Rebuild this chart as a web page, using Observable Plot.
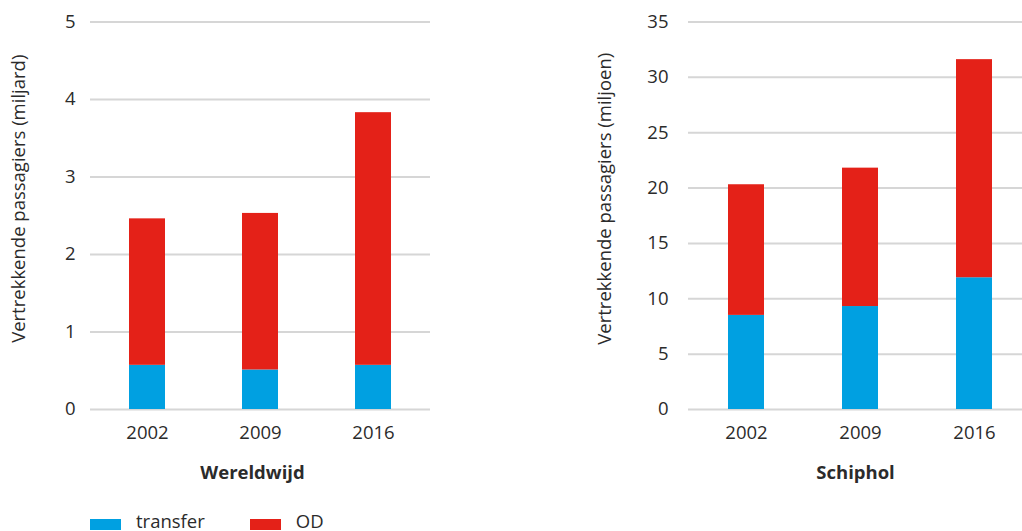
<!DOCTYPE html>
<html>
<head>
<meta charset="utf-8">
<script src="https://cdn.jsdelivr.net/npm/d3@7"></script>
<script src="https://cdn.jsdelivr.net/npm/@observablehq/plot@0.6"></script>
<style>
  html, body { margin: 0; padding: 0; background: #fff; }
  #wrap { position: relative; width: 1022px; height: 531px; overflow: hidden; font-family: "Open Sans", sans-serif; color: #2b2b2b; }
  #left { position: absolute; left: 0; top: 0; width: 450px; }
  #right { position: absolute; left: 580px; top: 0; width: 462px; }
  #wrap svg { max-width: none !important; }
  #legend { position: absolute; left: 90px; top: 508px; display: flex; align-items: center; font-size: 18.5px; }
  .item { display: flex; align-items: center; margin-right: 45px; }
  .sw { width: 31px; height: 11px; margin-right: 15px; margin-top: 8px; }
</style>
</head>
<body>
<div id="wrap">
  <div id="left"></div>
  <div id="right"></div>
  <div id="legend"></div>
</div>
<script>
const years = ["2002", "2009", "2016"];
const seriesNames = ["transfer", "OD"];
const seriesColors = ["#00a0e1", "#e42118"];

const worldTransfer = [0.57, 0.51, 0.57];
const worldOD = [1.89, 2.02, 3.26];
const worldTicks = [0, 1, 2, 3, 4, 5];

const schipholTransfer = [8.5, 9.3, 11.9];
const schipholOD = [11.8, 12.5, 19.7];
const schipholTicks = [0, 5, 10, 15, 20, 25, 30, 35];

function toRows(transfer, od) {
  const rows = [];
  years.forEach((y, i) => {
    rows.push({year: y, series: seriesNames[0], value: transfer[i]});
    rows.push({year: y, series: seriesNames[1], value: od[i]});
  });
  return rows;
}

const fontSize = 18.5;
const textColor = "#2b2b2b";

function chart({rows, ticks, yLabel, title, width, marginLeft, marginRight, tickPadding, labelDx, titleDx}) {
  return Plot.plot({
    width,
    height: 500,
    marginTop: 21.5,
    marginBottom: 91,
    marginLeft,
    marginRight,
    style: {fontFamily: "Open Sans, sans-serif", fontSize: fontSize + "px", color: textColor, background: "transparent", overflow: "visible"},
    x: {domain: years, paddingInner: 0.68, paddingOuter: 0.34, label: null},
    y: {domain: [ticks[0], ticks[ticks.length - 1]], label: null},
    color: {domain: seriesNames, range: seriesColors},
    marks: [
      Plot.ruleY(ticks, {stroke: "#d6d6d6", strokeWidth: 2}),
      Plot.barY(rows, {x: "year", y: "value", fill: "series"}),
      Plot.axisY(ticks, {tickSize: 0, tickPadding, tickFormat: "d", fontSize, label: null, fill: textColor}),
      Plot.axisX({tickSize: 0, tickPadding: 16, fontSize, label: null, fill: textColor}),
      Plot.text([yLabel], {frameAnchor: "left", textAnchor: "middle", rotate: -90, dx: labelDx, dy: -17, fontSize, fill: textColor}),
      Plot.text([title], {frameAnchor: "bottom", lineAnchor: "top", dy: 56, dx: titleDx, fontSize, fontWeight: "bold", fill: textColor})
    ]
  });
}

document.getElementById("left").appendChild(chart({
  rows: toRows(worldTransfer, worldOD),
  ticks: worldTicks,
  yLabel: "Vertrekkende passagiers (miljard)",
  title: "Wereldwijd",
  width: 450, marginLeft: 90, marginRight: 20,
  tickPadding: 15, labelDx: -71, titleDx: -8
}));

document.getElementById("right").appendChild(chart({
  rows: toRows(schipholTransfer, schipholOD),
  ticks: schipholTicks,
  yLabel: "Vertrekkende passagiers (miljoen)",
  title: "Schiphol",
  width: 462, marginLeft: 108, marginRight: 10,
  tickPadding: 20, labelDx: -83, titleDx: -5
}));

const legend = document.getElementById("legend");
seriesNames.forEach((name, i) => {
  const item = document.createElement("div");
  item.className = "item";
  const sw = document.createElement("div");
  sw.className = "sw";
  sw.style.background = seriesColors[i];
  const label = document.createElement("span");
  label.textContent = name;
  item.appendChild(sw);
  item.appendChild(label);
  legend.appendChild(item);
});
</script>
</body>
</html>
